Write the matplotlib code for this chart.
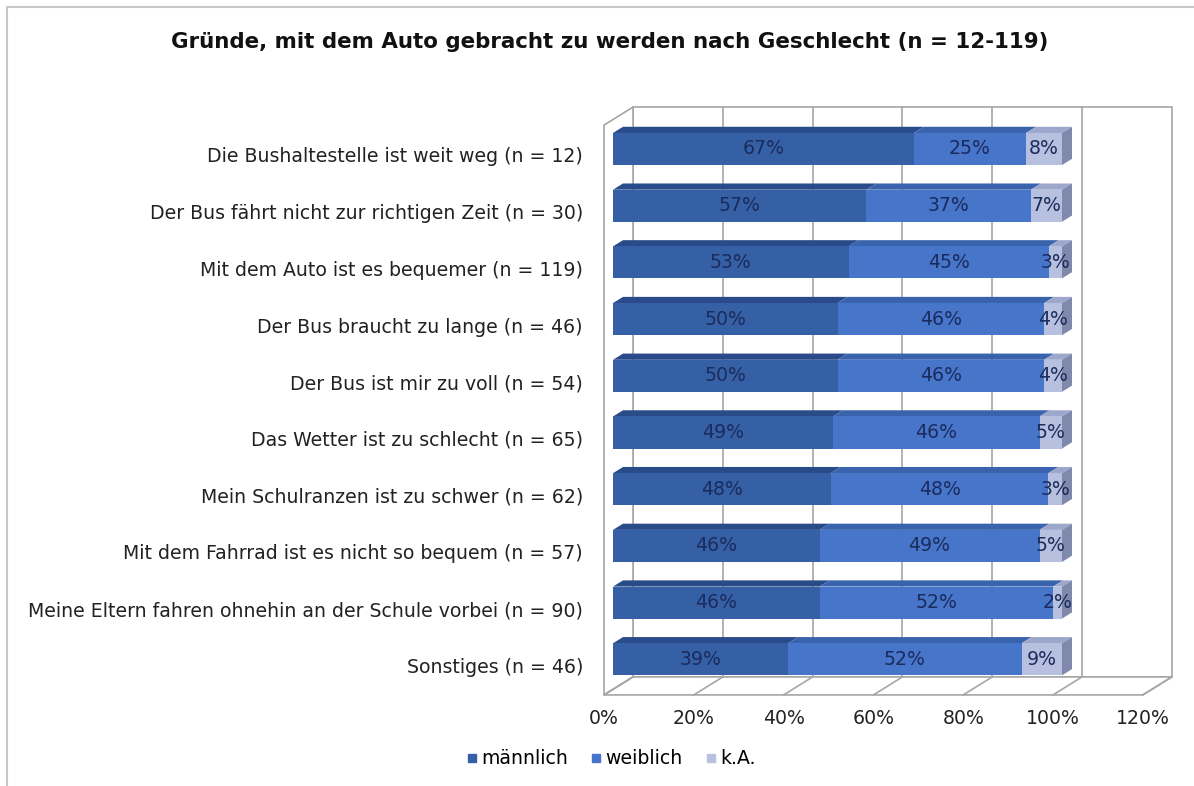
import matplotlib
matplotlib.use('Agg')
import matplotlib.pyplot as plt
from matplotlib.patches import Polygon, Rectangle
from matplotlib.lines import Line2D
import numpy as np

plt.rcParams['font.family'] = ['DejaVu Sans']

# Daten
categories = [
    'Die Bushaltestelle ist weit weg (n = 12)',
    'Der Bus fährt nicht zur richtigen Zeit (n = 30)',
    'Mit dem Auto ist es bequemer (n = 119)',
    'Der Bus braucht zu lange (n = 46)',
    'Der Bus ist mir zu voll (n = 54)',
    'Das Wetter ist zu schlecht (n = 65)',
    'Mein Schulranzen ist zu schwer (n = 62)',
    'Mit dem Fahrrad ist es nicht so bequem (n = 57)',
    'Meine Eltern fahren ohnehin an der Schule vorbei (n = 90)',
    'Sonstiges (n = 46)',
]
maennlich = [67, 57, 53, 50, 50, 49, 48, 46, 46, 39]
weiblich = [25, 37, 45, 46, 46, 46, 48, 49, 52, 52]
ka = [8, 7, 3, 4, 4, 5, 3, 5, 2, 9]
series_names = ['männlich', 'weiblich', 'k.A.']
xticks = [0, 20, 40, 60, 80, 100, 120]
title = 'Gründe, mit dem Auto gebracht zu werden nach Geschlecht (n = 12-119)'

front_colors = ['#3560A6', '#4675CA', '#B7C0DF']
top_colors = ['#2A4B8A', '#3A63AE', '#9DA7CB']
side_color = '#7F89AB'
text_color = '#1B2B5C'
wall_color = '#A6A6A6'
fs = 13.6

W, H = 1194, 786
fig = plt.figure(figsize=(W / 100, H / 100), dpi=100)

# Achse so legen, dass 1 % = ppx Pixel und eine Kategorie = ppy Pixel
ax_l, ax_r, ax_t, ax_b = 20, 1190, 90, 740
ppx, ppy = 4.49, 56.7
x0px, y0px = 613, 149
ax = fig.add_axes([ax_l / W, 1 - ax_b / H, (ax_r - ax_l) / W, (ax_b - ax_t) / H])
ax.set_xlim((ax_l - x0px) / ppx, (ax_r - x0px) / ppx)
ax.set_ylim((ax_b - y0px) / ppy, (ax_t - y0px) / ppy)
ax.axis('off')

# pseudo 3D: Tiefe nach rechts oben
DX, DY = 29 / ppx, -18 / ppy
t_front, t_back = -0.31, 0.69
floor_y = 9.53
top_y = -0.52


def pt(x, y, t):
    return (x + t * DX, y + t * DY)


xmax = xticks[-1]
# Rückwand, Seitenwand, Boden
ax.add_patch(Polygon([pt(0, floor_y, t_back), pt(xmax, floor_y, t_back),
                      pt(xmax, top_y, t_back), pt(0, top_y, t_back)],
                     closed=True, fc='white', ec=wall_color, lw=1.2, zorder=1))
ax.add_patch(Polygon([pt(0, floor_y, t_front), pt(0, top_y, t_front),
                      pt(0, top_y, t_back), pt(0, floor_y, t_back)],
                     closed=True, fc='white', ec=wall_color, lw=1.2, zorder=1))
ax.add_patch(Polygon([pt(0, floor_y, t_front), pt(xmax, floor_y, t_front),
                      pt(xmax, floor_y, t_back), pt(0, floor_y, t_back)],
                     closed=True, fc='white', ec=wall_color, lw=1.2, zorder=1))
for x in xticks[1:-1]:
    p0, p1 = pt(x, floor_y, t_back), pt(x, top_y, t_back)
    ax.plot([p0[0], p1[0]], [p0[1], p1[1]], color=wall_color, lw=1.2, zorder=1)
for x in xticks:
    p0, p1 = pt(x, floor_y, t_front), pt(x, floor_y, t_back)
    ax.plot([p0[0], p1[0]], [p0[1], p1[1]], color=wall_color, lw=1.2, zorder=1)
    lp = pt(x, floor_y + 0.41, t_front)
    ax.text(lp[0], lp[1], f'{x}%', ha='center', va='center', fontsize=fs,
            color='#222222')

# Balken
data = np.array([maennlich, weiblich, ka], dtype=float)
shares = data / data.sum(axis=0) * 100
lefts = np.vstack([np.zeros(len(categories)), np.cumsum(shares, axis=0)[:-1]])
ypos = np.arange(len(categories))
bh = 0.565
bd = 0.345

for j in range(3):
    ax.barh(ypos, shares[j], left=lefts[j], height=bh, color=front_colors[j],
            lw=0, zorder=3)
for i in ypos:
    ytop = i - bh / 2
    ybot = i + bh / 2
    for j in range(3):
        x0 = lefts[j][i]
        x1 = x0 + shares[j][i]
        ax.add_patch(Polygon([(x0, ytop), (x1, ytop), pt(x1, ytop, bd), pt(x0, ytop, bd)],
                             closed=True, fc=top_colors[j], lw=0, zorder=2))
        ax.text((x0 + x1) / 2, i, f'{int(data[j][i])}%', ha='center', va='center',
                fontsize=fs, color=text_color, zorder=5)
    xe = lefts[2][i] + shares[2][i]
    ax.add_patch(Polygon([(xe, ytop), pt(xe, ytop, bd), pt(xe, ybot, bd), (xe, ybot)],
                         closed=True, fc=side_color, lw=0, zorder=2))
    ax.text(-6.7, i + 0.14, categories[i], ha='right', va='center', fontsize=fs,
            color='#222222')

fig.text(610 / W, 1 - 42 / H, title, ha='center', va='center', fontsize=15.4,
         fontweight='bold', color='#111111')

handles = [Line2D([], [], marker='s', ls='', color=c, markersize=6) for c in front_colors]
fig.legend(handles, series_names, loc='center', bbox_to_anchor=(611 / W, 1 - 759 / H),
           ncol=3, frameon=False, handlelength=0.6, handletextpad=0.2,
           columnspacing=1.2, fontsize=fs)

fig.patches.append(Rectangle((7 / W, -0.1), 1.2, 1 - 7 / H + 0.1, transform=fig.transFigure,
                             fill=False, ec='#C8C8C8', lw=1.5))

fig.savefig('out.png', dpi=100)
